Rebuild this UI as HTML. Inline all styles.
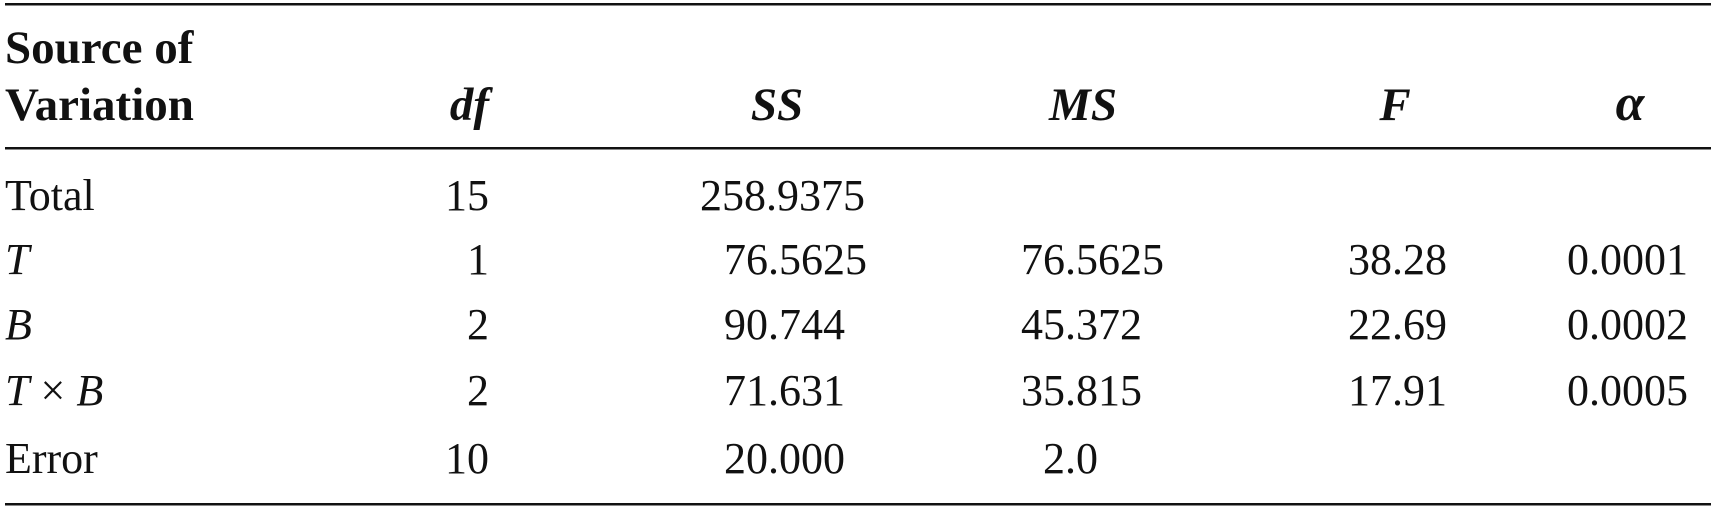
<!DOCTYPE html>
<html><head><meta charset="utf-8"><style>
html,body{margin:0;padding:0;background:#fff;width:1716px;height:510px;overflow:hidden}
svg text{font-family:"Liberation Serif",serif;font-size:44px;fill:#111}
.h{font-weight:bold;font-size:47px}
.i{font-style:italic}
</style></head><body>
<svg width="1716" height="510">
<rect x="5" y="3" width="1706" height="2.5" fill="#111"/>
<rect x="5" y="147" width="1706" height="2.5" fill="#111"/>
<rect x="5" y="503" width="1706" height="2.5" fill="#111"/>
<g>
<text class="h" x="5" y="63">Source of</text>
<text class="h" x="5" y="120">Variation</text>
<text class="h i" x="489" y="120" text-anchor="end">df</text>
<text class="h i" x="777" y="120" text-anchor="middle">SS</text>
<text class="h i" x="1083" y="120" text-anchor="middle">MS</text>
<text class="h i" x="1395" y="120" text-anchor="middle">F</text>
<text class="h i" x="1630" y="120" text-anchor="middle" style="font-size:52px">α</text>
</g>
<g>
<text x="5" y="210">Total</text>
<text x="489" y="210" text-anchor="end">15</text>
<text x="700" y="210">258.9375</text>
</g>
<g>
<text class="i" x="5" y="274">T</text>
<text x="489" y="274" text-anchor="end">1</text>
<text x="724" y="274">76.5625</text>
<text x="1021" y="274">76.5625</text>
<text x="1348" y="274">38.28</text>
<text x="1567" y="274">0.0001</text>
</g>
<g>
<text class="i" x="5" y="339">B</text>
<text x="489" y="339" text-anchor="end">2</text>
<text x="724" y="339">90.744</text>
<text x="1021" y="339">45.372</text>
<text x="1348" y="339">22.69</text>
<text x="1567" y="339">0.0002</text>
</g>
<g>
<text x="5" y="405"><tspan class="i">T</tspan> × <tspan class="i">B</tspan></text>
<text x="489" y="405" text-anchor="end">2</text>
<text x="724" y="405">71.631</text>
<text x="1021" y="405">35.815</text>
<text x="1348" y="405">17.91</text>
<text x="1567" y="405">0.0005</text>
</g>
<g>
<text x="5" y="473">Error</text>
<text x="489" y="473" text-anchor="end">10</text>
<text x="724" y="473">20.000</text>
<text x="1043" y="473">2.0</text>
</g>
</svg>
</body></html>
